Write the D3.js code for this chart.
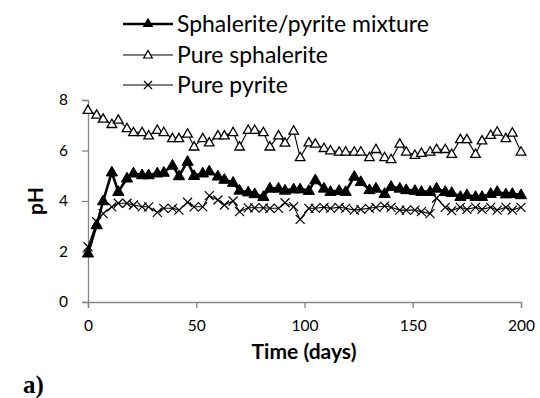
<!DOCTYPE html>
<html><head><meta charset="utf-8">
<script src="https://cdn.jsdelivr.net/npm/d3@7"></script>
<style>html,body{margin:0;padding:0;background:#fff;}svg{display:block;}</style>
</head><body>
<script>
const days = [0,4,7,11,14,18,21,25,28,32,35,39,42,46,49,53,56,60,63,67,70,74,77,81,84,88,91,95,98,102,105,109,112,116,119,123,126,130,133,137,140,144,147,151,154,158,161,165,168,172,175,179,182,186,189,193,196,200];
const mixture = [1.93,3.05,4.0,5.14,4.37,4.9,5.1,5.03,5.03,5.1,5.13,5.41,4.99,5.56,5.0,5.1,5.18,4.98,4.85,4.73,4.42,4.35,4.28,4.17,4.5,4.5,4.42,4.47,4.47,4.41,4.83,4.5,4.37,4.41,4.37,4.97,4.76,4.44,4.5,4.29,4.57,4.5,4.44,4.41,4.37,4.37,4.5,4.37,4.33,4.17,4.24,4.17,4.17,4.29,4.37,4.27,4.29,4.24];
const sphalerite = [7.6,7.41,7.25,7.04,7.21,6.88,6.72,6.72,6.59,6.81,6.72,6.48,6.48,6.66,6.15,6.48,6.31,6.59,6.59,6.72,6.15,6.81,6.81,6.72,6.15,6.59,6.3,6.78,5.73,6.31,6.26,6.09,6.0,5.95,5.95,5.95,5.95,5.73,6.05,5.73,5.65,6.26,5.95,5.82,5.9,5.95,6.05,6.05,5.86,6.44,6.44,5.86,6.39,6.61,6.74,6.48,6.7,5.95];
const pyrite = [2.19,3.18,3.5,3.77,3.91,3.91,3.84,3.77,3.77,3.55,3.71,3.71,3.64,3.95,3.77,3.77,4.21,4.04,3.84,4.0,3.58,3.73,3.73,3.73,3.71,3.71,3.93,3.78,3.27,3.71,3.71,3.75,3.71,3.75,3.71,3.64,3.67,3.71,3.75,3.8,3.75,3.64,3.64,3.64,3.58,3.5,4.12,3.75,3.62,3.75,3.67,3.75,3.67,3.75,3.64,3.75,3.64,3.75];
const seriesNames = ["Sphalerite/pyrite mixture","Pure sphalerite","Pure pyrite"];
const xTicks = [0,50,100,150,200];
const yTicks = [0,2,4,6,8];
const xTitle = "Time (days)";
const yTitle = "pH";
const panelLabel = "a)";

const W = 540, H = 398;
const svg = d3.select("body").append("svg").attr("width", W).attr("height", H);
svg.append("rect").attr("width", W).attr("height", H).attr("fill", "#fff");

const x = d3.scaleLinear().domain([0,200]).range([88,521]);
const y = d3.scaleLinear().domain([0,8]).range([302,100]);
const FONT = "Lato, 'Open Sans', sans-serif";
const axisColor = "#868686";

function fitSize(text, weight, target, family) {
  const t = svg.append("text").attr("font-family", family || FONT).attr("font-weight", weight).attr("font-size", 20).text(text);
  const w = t.node().getComputedTextLength();
  t.remove();
  return 20 * target / w;
}

// axes
const tickSize = fitSize("200", "normal", 27);
const xAxis = svg.append("g").attr("transform", `translate(0,${y(0)})`)
  .call(d3.axisBottom(x).tickValues(xTicks).tickSize(6).tickPadding(12).tickFormat(d3.format("d")));
const yAxis = svg.append("g").attr("transform", `translate(${x(0)},0)`)
  .call(d3.axisLeft(y).tickValues(yTicks).tickSize(6).tickPadding(14).tickFormat(d3.format("d")));
[xAxis, yAxis].forEach(g => {
  g.selectAll("path.domain").attr("stroke", axisColor).attr("stroke-width", 1.3);
  g.selectAll(".tick line").attr("stroke", axisColor).attr("stroke-width", 1.3);
  g.selectAll(".tick text").attr("font-family", FONT).attr("font-size", tickSize).attr("fill", "#000");
});

const line = d3.line().x(d => x(d[0])).y(d => y(d[1]));
const tri = d3.symbol().type(d3.symbolTriangle);

function pts(vals) { return days.map((d, i) => [d, vals[i]]); }

// pyrite
svg.append("path").datum(pts(pyrite)).attr("d", line).attr("fill", "none").attr("stroke", "#000").attr("stroke-width", 1.1);
function crossPath(cx, cy, r) { return `M${cx-r},${cy-r}L${cx+r},${cy+r}M${cx-r},${cy+r}L${cx+r},${cy-r}`; }
svg.append("g").selectAll("path").data(pts(pyrite)).join("path")
  .attr("d", d => crossPath(x(d[0]), y(d[1]), 4.5)).attr("stroke", "#000").attr("stroke-width", 1.2).attr("fill", "none");

// sphalerite
svg.append("path").datum(pts(sphalerite)).attr("d", line).attr("fill", "none").attr("stroke", "#000").attr("stroke-width", 1.1);
svg.append("g").selectAll("path").data(pts(sphalerite)).join("path")
  .attr("d", tri.size(40)).attr("transform", d => `translate(${x(d[0])},${y(d[1])+0.5})`)
  .attr("fill", "#fff").attr("stroke", "#000").attr("stroke-width", 1.3);

// mixture
svg.append("path").datum(pts(mixture)).attr("d", line).attr("fill", "none").attr("stroke", "#000").attr("stroke-width", 2.6);
svg.append("g").selectAll("path").data(pts(mixture)).join("path")
  .attr("d", tri.size(55)).attr("transform", d => `translate(${x(d[0])},${y(d[1])+0.5})`)
  .attr("fill", "#000").attr("stroke", "#000").attr("stroke-width", 1);

// legend
const legSize = fitSize(seriesNames[0], "normal", 252);
const legRows = [24, 55, 85];
const leg = svg.append("g");
seriesNames.forEach((name, i) => {
  const yy = legRows[i];
  leg.append("line").attr("x1", 123).attr("x2", 173).attr("y1", yy).attr("y2", yy)
    .attr("stroke", "#000").attr("stroke-width", i === 0 ? 2.6 : 1.1);
  if (i === 0) {
    leg.append("path").attr("d", tri.size(50)).attr("transform", `translate(148,${yy})`).attr("fill", "#000");
  } else if (i === 1) {
    leg.append("path").attr("d", tri.size(32)).attr("transform", `translate(148,${yy+0.5})`).attr("fill", "#fff").attr("stroke", "#000").attr("stroke-width", 1.2);
  } else {
    leg.append("path").attr("d", crossPath(148, yy, 4)).attr("stroke", "#000").attr("stroke-width", 1.2);
  }
  leg.append("text").attr("x", 177).attr("y", yy).attr("dy", "0.35em")
    .attr("font-family", FONT).attr("font-size", legSize).attr("fill", "#000").text(name);
});

// titles
const titleSize = fitSize(xTitle, "bold", 105);
svg.append("text").attr("x", 304).attr("y", 352).attr("dy", "0.35em").attr("text-anchor", "middle")
  .attr("font-family", FONT).attr("font-weight", "bold").attr("font-size", titleSize).attr("fill", "#000").text(xTitle);
svg.append("text").attr("transform", `translate(36,201) rotate(-90)`).attr("dy", "0.35em").attr("text-anchor", "middle")
  .attr("font-family", FONT).attr("font-weight", "bold").attr("font-size", titleSize).attr("fill", "#000").text(yTitle);
svg.append("text").attr("x", 23).attr("y", 393)
  .attr("font-family", "'Liberation Serif', 'Times New Roman', serif").attr("font-weight", "bold").attr("font-size", 25).attr("fill", "#000").text(panelLabel);
</script>
</body></html>
